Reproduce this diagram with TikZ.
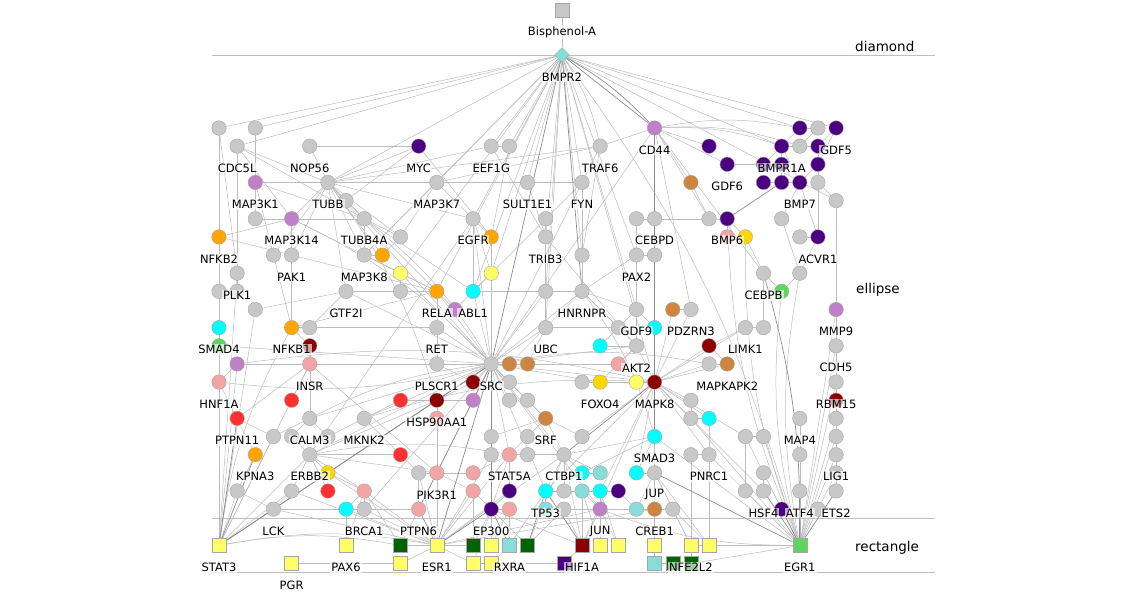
\documentclass[tikz,border=0pt]{standalone}
\usepackage{fontspec}
\setmainfont{DejaVu Sans}
\usetikzlibrary{shapes.geometric,backgrounds}
\definecolor{gr}{RGB}{200,200,200}
\definecolor{eg}{RGB}{188,188,188}
\definecolor{pu}{RGB}{75,0,130}
\definecolor{or}{RGB}{192,128,200}
\definecolor{og}{RGB}{255,165,0}
\definecolor{br}{RGB}{205,133,63}
\definecolor{ye}{RGB}{255,255,102}
\definecolor{go}{RGB}{255,215,0}
\definecolor{cy}{RGB}{0,255,255}
\definecolor{lc}{RGB}{136,221,216}
\definecolor{dr}{RGB}{139,0,0}
\definecolor{rd}{RGB}{255,48,48}
\definecolor{pk}{RGB}{242,165,165}
\definecolor{gn}{RGB}{92,214,92}
\definecolor{dg}{RGB}{0,100,0}
\definecolor{dm}{RGB}{128,224,216}
\begin{document}
\begin{tikzpicture}[x=18.15pt,y=-18.15pt,
  nd/.style={circle,draw=black!35,line width=0.4pt,minimum size=14.5pt,inner sep=0pt},
  sq/.style={rectangle,draw=black!35,line width=0.4pt,minimum size=14pt,inner sep=0pt},
  lbl/.style={fill=white,fill opacity=0.65,text opacity=1,inner sep=1pt,font=\fontsize{11.5}{13}\selectfont},
  side/.style={font=\fontsize{13.5}{15}\selectfont,inner sep=0pt},
  ed/.style={draw=eg,line width=0.5pt},
  edd/.style={draw=black!45,line width=0.7pt},
  sep/.style={draw=black!25,line width=1pt}]
\useasboundingbox ({-219/18.15},{-128/18.15}) rectangle ({908/18.15},{482/18.15});
\node[sq,fill=gr] (Bisphenol-A) at ({343/18.15},{-118/18.15}) {};
\node[diamond,draw=black!35,fill=dm,minimum size=15pt,inner sep=0pt] (BMPR2) at ({343/18.15},{-73/18.15}) {};
\foreach \n/\c/\r/\f in {CD44/24/0/or,GDF5/34/0/pu,CDC5L/1/1/gr,NOP56/5/1/gr,MYC/11/1/pu,EEF1G/15/1/gr,
  TRAF6/21/1/gr,BMPR1A/31/1/pu,GDF6/28/2/pu,MAP3K1/2/3/or,TUBB/6/3/gr,MAP3K7/12/3/gr,SULT1E1/17/3/gr,
  FYN/20/3/gr,BMP7/32/3/pu,MAP3K14/4/5/or,TUBB4A/8/5/gr,EGFR/14/5/gr,CEBPD/24/5/gr,BMP6/28/5/pu,
  NFKB2/0/6/og,TRIB3/18/6/gr,ACVR1/33/6/pu,PAK1/4/7/gr,MAP3K8/8/7/gr,PAX2/23/7/gr,PLK1/1/8/gr,
  CEBPB/30/8/gr,GTF2I/7/9/gr,RELA/12/9/og,ABL1/14/9/cy,HNRNPR/20/9/gr,GDF9/23/10/gr,PDZRN3/26/10/gr,
  MMP9/34/10/or,SMAD4/0/11/cy,NFKB1/4/11/og,RET/12/11/gr,UBC/18/11/gr,LIMK1/29/11/gr,AKT2/23/12/gr,
  CDH5/34/12/gr,INSR/5/13/pk,PLSCR1/12/13/gr,SRC/15/13/gr,MAPKAPK2/28/13/br,HNF1A/0/14/pk,
  FOXO4/21/14/go,MAPK8/24/14/dr,RBM15/34/14/gr,HSP90AA1/12/15/dr,PTPN11/1/16/rd,CALM3/5/16/gr,
  MKNK2/8/16/gr,SRF/18/16/br,MAP4/32/16/gr,SMAD3/24/17/cy,KPNA3/2/18/og,ERBB2/5/18/gr,
  STAT5A/16/18/pk,CTBP1/19/18/gr,PNRC1/27/18/gr,LIG1/34/18/gr,PIK3R1/12/19/pk,JUP/24/19/gr,
  TP53/18/20/cy,HSF4/30/20/gr,ATF4/32/20/gr,ETS2/34/20/gr,LCK/3/21/gr,BRCA1/8/21/gr,PTPN6/11/21/pk,
  EP300/15/21/pu,JUN/21/21/or,CREB1/24/21/br}
  \node[nd,fill=\f] (\n) at (\c,\r) {};
\foreach \n/\c/\r/\f in {STAT3/0/23/ye,PAX6/7/23/ye,ESR1/12/23/ye,RXRA/16/23/lc,HIF1A/20/23/dr,
  NFE2L2/26/23/ye,EGR1/32/23/gn,PGR/4/24/ye}
  \node[sq,fill=\f] (\n) at (\c,\r) {};
\foreach \c/\r/\f in {0/0/gr,2/0/gr,32/0/pu,33/0/gr,16/1/gr,27/1/pu,32/1/gr,33/1/pu,30/2/pu,31/2/pu,33/2/pu,
  26/3/br,30/3/pu,31/3/pu,33/3/gr,7/4/gr,34/4/gr,2/5/gr,18/5/gr,23/5/gr,27/5/gr,31/5/gr,
  10/6/gr,15/6/og,28/6/pk,29/6/go,32/6/gr,3/7/gr,9/7/og,20/7/gr,24/7/gr,10/8/ye,15/8/ye,32/8/gr,
  0/9/gr,1/9/gr,10/9/gr,18/9/gr,31/9/gn,2/10/gr,13/10/or,25/10/br,5/11/gr,22/11/gr,24/11/cy,30/11/gr,
  0/12/gn,5/12/dr,21/12/cy,27/12/dr,1/13/or,16/13/br,17/13/br,22/13/pk,27/13/gr,
  14/14/dr,16/14/gr,20/14/gr,23/14/ye,4/15/rd,10/15/rd,14/15/or,16/15/gr,17/15/gr,26/15/gr,34/15/dr,
  12/16/pk,26/16/gr,27/16/cy,34/16/gr,3/17/gr,4/17/gr,6/17/gr,15/17/gr,17/17/gr,20/17/gr,29/17/gr,
  30/17/gr,34/17/gr,10/18/rd,15/18/gr,17/18/gr,26/18/gr,32/18/gr,6/19/go,11/19/gr,14/19/pk,20/19/cy,
  21/19/lc,23/19/cy,30/19/gr,34/19/gr,1/20/gr,4/20/gr,6/20/rd,8/20/pk,14/20/pk,16/20/pu,19/20/gr,
  20/20/lc,21/20/cy,22/20/pu,29/20/gr,7/21/cy,16/21/pk,18/21/lc,19/21/gr,23/21/lc,25/21/gr,31/21/pu,33/21/gr}
  \node[nd,fill=\f] (u\c-\r) at (\c,\r) {};
\foreach \c/\r/\f in {10/23/dg,14/23/dg,15/23/ye,17/23/dg,21/23/ye,22/23/ye,24/23/ye,27/23/ye,
  10/24/ye,14/24/ye,15/24/ye,19/24/pu,24/24/lc,25/24/dg,26/24/dg}
  \node[sq,fill=\f] (u\c-\r) at (\c,\r) {};
\foreach \n in {Bisphenol-A,BMPR2,CD44,GDF5,CDC5L,NOP56,MYC,EEF1G,TRAF6,BMPR1A,GDF6,MAP3K1,TUBB,MAP3K7,
  SULT1E1,FYN,BMP7,MAP3K14,TUBB4A,EGFR,CEBPD,BMP6,NFKB2,TRIB3,ACVR1,PAK1,MAP3K8,PAX2,PLK1,CEBPB,GTF2I,
  RELA,ABL1,HNRNPR,GDF9,PDZRN3,MMP9,SMAD4,NFKB1,RET,UBC,LIMK1,AKT2,CDH5,INSR,PLSCR1,SRC,MAPKAPK2,HNF1A,
  FOXO4,MAPK8,RBM15,HSP90AA1,PTPN11,CALM3,MKNK2,SRF,MAP4,SMAD3,KPNA3,ERBB2,STAT5A,CTBP1,PNRC1,LIG1,
  PIK3R1,JUP,TP53,HSF4,ATF4,ETS2,LCK,BRCA1,PTPN6,EP300,JUN,CREB1,STAT3,PAX6,ESR1,RXRA,HIF1A,NFE2L2,EGR1,PGR}
  \node[lbl] (\n-t) at ([yshift=-22pt]\n.center) {\n};
\node[side,anchor=base west] (diamond-t) at ({636/18.15},{-76/18.15}) {diamond};
\node[side,anchor=base west] (ellipse-t) at ({637/18.15},{165/18.15}) {ellipse};
\node[side,anchor=base west] (rectangle-t) at ({636/18.15},{423/18.15}) {rectangle};
\begin{scope}[on background layer]
\draw[sep] ({-7/18.15},{-72/18.15}) -- ({716/18.15},{-72/18.15});
\draw[sep] ({-7/18.15},{390/18.15}) -- ({716/18.15},{390/18.15});
\draw[sep] ({-7/18.15},{444/18.15}) -- ({716/18.15},{444/18.15});
\foreach \a/\b in {Bisphenol-A/BMPR2,BMPR2/u0-0,BMPR2/u2-0,BMPR2/CDC5L,BMPR2/TUBB,BMPR2/MAP3K7,BMPR2/EEF1G,
  BMPR2/u16-1,BMPR2/SULT1E1,BMPR2/FYN,BMPR2/RELA,BMPR2/ABL1,BMPR2/EGFR,BMPR2/TRIB3,BMPR2/GDF9,
  BMPR2/MAPK8,BMPR2/u32-0,BMPR2/GDF5,BMPR2/BMPR1A,BMPR2/u34-4,BMPR2/u20-7,BMPR2/UBC,BMPR2/PAX2,
  BMPR2/u15-8,BMPR2/u10-8,BMPR2/MAP3K8,BMPR2/u18-9,
  u0-0/u0-9,u0-0/PLK1,u2-0/MAP3K1,u2-0/u2-5,CDC5L/MAP3K14,CDC5L/TUBB4A,CDC5L/u1-9,NOP56/MYC,NOP56/TUBB,
  MAP3K1/TUBB,MAP3K1/TUBB4A,MAP3K1/NFKB1,MAP3K1/MAP3K7,TUBB/MAP3K14,TUBB/TUBB4A,TUBB/u7-4,TUBB/MAP3K7,
  TUBB/EGFR,TUBB/u10-6,TUBB/MAP3K8,TUBB/RELA,TUBB/GTF2I,TUBB/u9-7,TUBB/SRC,TUBB/MYC,TUBB/CDC5L,TUBB/PAK1,
  TUBB/TRAF6,TUBB/FYN,TUBB/SULT1E1,TUBB/EEF1G,TUBB/u3-7,MAP3K14/NFKB2,MAP3K14/TUBB4A,MAP3K14/RELA,
  MAP3K14/NFKB1,MAP3K14/PAK1,MAP3K14/u2-5,MAP3K7/u10-6,MAP3K7/EGFR,MAP3K7/TRAF6,MAP3K7/MAP3K8,MYC/u7-4,
  MYC/u15-6,TUBB4A/u10-6,TUBB4A/MAP3K8,TUBB4A/ABL1,EGFR/u15-6,EGFR/ABL1,EGFR/SRC,EGFR/u15-8,EEF1G/TRIB3,
  EEF1G/u16-1,u16-1/u15-6,SULT1E1/TRIB3,TRAF6/FYN,TRAF6/u20-7,TRAF6/CD44,FYN/HNRNPR,FYN/u20-7,FYN/ABL1,
  FYN/SRC,TRIB3/u18-5,TRIB3/u18-9,TRIB3/AKT2,u18-9/HNRNPR,PAX2/u23-5,PAX2/u24-7,CEBPD/u23-5,CEBPD/u27-5,
  u27-5/BMP6,CEBPD/u24-7,PAX2/GDF9,PAX2/HNRNPR,CD44/u27-1,CD44/GDF6,CD44/u26-3,CD44/SRC,CD44/PDZRN3,
  CD44/u27-5,CD44/CEBPB,GDF6/u31-2,GDF6/u30-2,BMPR1A/u32-0,BMPR1A/u33-1,BMPR1A/u30-2,BMPR1A/u31-3,
  BMPR1A/BMP7,GDF5/u33-1,GDF5/u33-2,u32-0/u33-0,u33-0/u32-1,u33-1/u33-2,u33-2/BMP7,u33-2/u33-3,
  BMP7/u30-3,BMP7/ACVR1,BMP7/u31-5,BMP6/u28-6,BMP6/u29-6,u29-6/CEBPB,ACVR1/u32-6,ACVR1/u33-3,
  ACVR1/u32-8,u34-4/u33-3,u34-4/MMP9,u31-5/u32-8,u26-3/u27-5,CEBPB/u31-9,u32-8/u31-9,CEBPB/u30-11,
  MMP9/CDH5,CDH5/RBM15,RBM15/u34-15,u34-15/u34-16,u34-16/u34-17,u34-17/LIG1,LIG1/u34-19,u34-19/ETS2,
  MAP4/u32-18,u32-18/ATF4,u29-17/u30-17,u29-17/u29-20,HSF4/u30-19,
  GTF2I/RELA,GTF2I/u2-10,GTF2I/SRC,GTF2I/u5-11,MAP3K8/u10-8,MAP3K8/RELA,MAP3K8/u9-7,u9-7/u10-6,
  u10-8/u10-9,RELA/NFKB1,RELA/NFKB2,RELA/u13-10,RELA/RET,RELA/SRC,ABL1/u13-10,ABL1/SRC,ABL1/HNRNPR,
  ABL1/u15-8,u15-8/u15-6,RET/SRC,RET/PLSCR1,RET/u5-11,PLSCR1/SRC,PLSCR1/u14-14,u14-14/SRC,HSP90AA1/SRC,
  HSP90AA1/u14-14,HSP90AA1/u10-15,HSP90AA1/u12-16,HSP90AA1/ERBB2,HSP90AA1/u14-15,u14-15/SRC,INSR/u5-12,
  INSR/SRC,INSR/u4-15,INSR/PTPN11,INSR/u1-13,INSR/PIK3R1,u1-13/SRC,u0-12/SRC,NFKB1/u5-11,NFKB1/u5-12,
  SMAD4/u0-12,u0-12/HNF1A,HNF1A/PTPN11,HNF1A/u1-13,
  SRC/HNRNPR,SRC/UBC,SRC/u16-13,u16-13/u17-13,SRC/u16-14,SRC/u16-15,SRC/u17-15,SRC/u15-17,SRC/u15-18,
  SRC/STAT5A,SRC/CTBP1,SRC/TP53,SRC/SRF,SRC/AKT2,SRC/u22-13,SRC/MAPK8,SRC/FOXO4,SRC/PIK3R1,SRC/CALM3,
  SRC/MKNK2,SRC/ERBB2,SRC/BRCA1,SRC/JUN,SRC/u10-8,SRC/u15-8,SRC/u15-6,SRC/u18-9,
  UBC/HNRNPR,UBC/u16-13,UBC/u17-13,UBC/u18-9,UBC/u22-11,HNRNPR/u22-11,HNRNPR/AKT2,HNRNPR/GDF9,
  HNRNPR/u20-7,GDF9/u22-11,GDF9/u24-11,GDF9/u21-12,GDF9/AKT2,AKT2/u22-13,AKT2/MAPK8,AKT2/FOXO4,
  AKT2/u21-12,u20-14/FOXO4,FOXO4/u23-14,u23-14/MAPK8,MAPK8/u24-11,MAPK8/u27-12,MAPK8/PDZRN3,
  MAPK8/u25-10,MAPK8/LIMK1,MAPK8/MAPKAPK2,MAPK8/u27-13,MAPK8/u26-15,MAPK8/u26-16,MAPK8/u27-16,
  MAPK8/JUP,MAPK8/u20-17,MAPK8/u21-20,MAPK8/TP53,MAPK8/PNRC1,MAPK8/u29-17,MAPK8/HSF4,MAPK8/u23-19,
  PDZRN3/u25-10,u27-12/MAPKAPK2,u27-13/MAPKAPK2,LIMK1/u30-11,LIMK1/u27-12,u26-15/u26-16,u26-16/u27-16,
  u27-16/PNRC1,u26-18/PNRC1,SMAD3/JUP,SMAD3/u23-19,SMAD3/CTBP1,SMAD3/u20-19,JUP/u23-19,JUP/CREB1,
  JUP/u25-21,JUP/u23-21,SRF/u17-17,SRF/u15-17,SRF/STAT5A,SRF/u17-15,SRF/CTBP1,SRF/u20-17,CTBP1/u17-18,
  CTBP1/u20-19,CTBP1/TP53,CTBP1/u21-19,CTBP1/u19-20,u15-17/u15-18,STAT5A/u17-18,STAT5A/u16-20,
  STAT5A/u14-19,STAT5A/EP300,PIK3R1/u11-19,PIK3R1/u14-19,PIK3R1/u12-16,PIK3R1/PTPN6,PIK3R1/u14-20,
  u14-20/EP300,u16-20/EP300,u16-21/EP300,TP53/u19-20,TP53/u18-21,TP53/u20-20,u20-20/u21-20,
  u21-20/u22-20,u20-19/u21-19,JUN/u19-21,JUN/u20-20,JUN/u21-20,JUN/u23-21,CREB1/u23-21,CREB1/u25-21,
  u22-20/u23-21,MKNK2/u10-18,MKNK2/u6-17,MKNK2/u10-15,CALM3/u6-17,CALM3/u4-17,CALM3/u3-17,CALM3/u5-12,
  PTPN11/u3-17,PTPN11/KPNA3,KPNA3/u1-20,ERBB2/u6-19,ERBB2/u4-17,ERBB2/u6-20,ERBB2/u8-20,ERBB2/u4-20,
  ERBB2/PIK3R1,ERBB2/EGFR,ERBB2/u10-18,u10-18/u11-19,u6-19/u8-20,u8-20/BRCA1,u8-20/u7-21,BRCA1/u7-21,
  BRCA1/PTPN6,LCK/u4-20,LCK/PTPN6,LCK/u1-20,u11-19/PTPN6,
  STAT3/u0-9,STAT3/NFKB2,STAT3/PLK1,STAT3/SMAD4,STAT3/HNF1A,STAT3/u1-20,STAT3/u4-20,STAT3/ERBB2,
  STAT3/u2-10,STAT3/u1-13,STAT3/INSR,STAT3/u3-17,PGR/u10-24,PAX6/u7-21,PAX6/u8-20,
  ESR1/u10-23,ESR1/u10-24,ESR1/BRCA1,ESR1/u14-23,ESR1/u14-24,ESR1/PIK3R1,ESR1/u11-19,ESR1/u14-20,
  ESR1/STAT5A,ESR1/u16-20,ESR1/HSP90AA1,ESR1/u8-20,ESR1/u6-19,ESR1/u7-21,ESR1/JUN,ESR1/CREB1,
  ESR1/CTBP1,ESR1/u15-18,ESR1/u4-20,ESR1/LCK,u10-23/PTPN6,u10-23/u8-20,u14-23/EP300,u14-23/u14-20,
  u15-23/EP300,u15-23/u16-21,u14-24/EP300,RXRA/u16-21,RXRA/TP53,RXRA/u15-24,u17-23/u19-21,
  u17-23/EP300,u17-23/CTBP1,HIF1A/JUN,HIF1A/EP300,HIF1A/CTBP1,HIF1A/u19-21,HIF1A/u20-20,HIF1A/u19-24,
  u19-24/u14-24,HIF1A/MAPK8,u21-23/JUN,u22-23/JUN,u21-23/u20-20,u22-23/u21-20,u24-23/CREB1,u24-23/JUP,
  u24-24/CREB1,u24-24/u25-24,NFE2L2/u26-18,NFE2L2/JUP,NFE2L2/u25-21,NFE2L2/u26-24,u27-23/PNRC1,
  u27-23/u25-21,u27-23/JUP,EGR1/MAP4,EGR1/u32-18,EGR1/u29-20,EGR1/u30-19,EGR1/u29-17,EGR1/u30-17,
  EGR1/SMAD3,EGR1/u34-17,EGR1/RBM15,EGR1/u34-19,EGR1/NFE2L2,EGR1/u27-23,EGR1/u26-24,EGR1/PNRC1,
  EGR1/u34-16,EGR1/CDH5,EGR1/MMP9,EGR1/u26-16,EGR1/u33-21,EGR1/LIG1}
  \draw[ed] (\a) -- (\b);
\foreach \a/\b in {EGR1/u31-9,EGR1/u29-6,EGR1/BMP6,STAT3/ESR1,STAT3/u10-23,CD44/u32-0,CD44/u32-1,
  CD44/BMPR1A,BMPR2/TRAF6,EGR1/u32-8,STAT3/NFKB1,EGR1/JUN,BMPR2/EGR1,SRC/HNF1A,TUBB/HSP90AA1,
  MAP3K14/SRC,u1-13/MAPK8,CALM3/SRC,TUBB4A/SRC,MKNK2/MAPK8,ERBB2/STAT5A,SRC/u27-13,HNRNPR/SMAD3}
  \draw[ed] (\a) to[bend left=10] (\b);
\foreach \a/\b in {BMPR2/SRC,BMPR2/CD44,BMPR2/HNRNPR,SRC/PTPN6,SRC/ESR1,SRC/EP300,SRC/STAT3,SRC/LCK,
  STAT3/LCK,STAT3/KPNA3,STAT3/PTPN11,EGR1/ATF4,EGR1/ETS2,EGR1/HSF4,EGR1/JUP,EGR1/u31-21,u31-3/BMP6,
  CD44/MAPK8,MAPK8/SMAD3,MAPK8/CTBP1,ESR1/EP300,ESR1/PTPN6,HIF1A/TP53,u17-23/TP53,RXRA/EP300}
  \draw[edd] (\a) -- (\b);
\draw[edd] (EGR1) to[bend right=8] (CEBPB);
\draw[edd] (BMPR2) to[bend left=8] (CD44);
\end{scope}
\end{tikzpicture}
\end{document}
